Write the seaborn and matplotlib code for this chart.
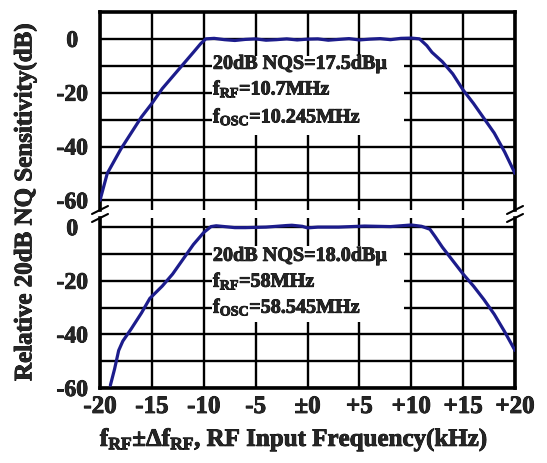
import numpy as np
import pandas as pd
import seaborn as sns
import matplotlib
matplotlib.use("Agg")
import matplotlib.pyplot as plt
import matplotlib.patheffects as pe
from matplotlib.patches import Rectangle
from matplotlib.lines import Line2D

# ---------------- data ----------------
x_top = [-20.0, -19.3, -18.0, -17.0, -16.0, -15.0, -14.0, -13.0, -12.0, -11.0, -10.3, -9.8,
         -9.0, -8.0, -7.0, -6.0, -5.0, -4.0, -3.0, -2.0, -1.0, 0.0, 1.0, 2.0, 3.0, 4.0,
         5.0, 6.0, 7.0, 8.0, 9.0, 10.0, 10.8, 11.5, 12.0, 13.0, 14.0, 15.0, 16.0, 17.0,
         18.0, 19.0, 20.0]
y_top = [-60.0, -50.0, -41.0, -35.0, -29.0, -24.0, -18.5, -14.0, -9.5, -5.0, -1.8, 0.0,
         0.2, -0.3, -0.6, -0.2, 0.0, -0.5, -0.3, 0.0, -0.4, -0.1, 0.0, -0.5, -0.2, 0.1,
         -0.4, -0.1, 0.1, -0.3, 0.2, 0.3, 0.0, -2.5, -5.0, -8.5, -13.0, -19.0, -24.0, -29.5,
         -35.0, -42.0, -50.0]

x_bot = [-19.0, -18.6, -18.2, -17.8, -17.0, -16.0, -15.2, -14.0, -13.0, -12.0, -11.0, -10.0,
         -9.3, -8.8, -8.0, -7.0, -6.0, -4.0, -2.0, -1.5, -0.5, 0.0, 1.0, 3.0, 5.5, 8.0,
         10.0, 11.0, 11.8, 12.3, 13.0, 14.0, 15.0, 16.0, 17.0, 18.0, 19.0, 20.0]
y_bot = [-59.0, -53.0, -46.0, -42.5, -38.0, -32.0, -26.6, -22.0, -17.5, -12.0, -6.5, -2.0,
         0.2, 0.5, 0.2, -0.2, -0.2, 0.0, 0.6, 0.7, 0.3, -0.3, 0.0, 0.0, 0.4, 0.2,
         0.8, 0.3, -0.8, -3.5, -7.5, -12.5, -17.5, -22.0, -27.0, -32.5, -39.0, -46.0]

x_ticks = [-20, -15, -10, -5, 0, 5, 10, 15, 20]
x_ticklabels = ["-20", "-15", "-10", "-5", "±0", "+5", "+10", "+15", "+20"]
y_ticks = [0, -10, -20, -30, -40, -50, -60]
y_ticklabels = ["0", "", "-20", "", "-40", "", "-60"]

top_lines = ["20dB NQS=17.5dBμ", r"f$_\mathrm{RF}$=10.7MHz", r"f$_\mathrm{OSC}$=10.245MHz"]
bot_lines = ["20dB NQS=18.0dBμ", r"f$_\mathrm{RF}$=58MHz", r"f$_\mathrm{OSC}$=58.545MHz"]

xlabel = r"f$_\mathrm{RF}$±Δf$_\mathrm{RF}$, RF Input Frequency(kHz)"
ylabel = "Relative 20dB NQ Sensitivity(dB)"

# ---------------- style ----------------
sns.set_style("white")
plt.rcParams["font.family"] = ["Liberation Serif", "DejaVu Serif"]
plt.rcParams["font.weight"] = "bold"
plt.rcParams["mathtext.fontset"] = "custom"
plt.rcParams["mathtext.rm"] = "Liberation Serif:bold"
plt.rcParams["mathtext.it"] = "Liberation Serif:bold"
plt.rcParams["mathtext.bf"] = "Liberation Serif:bold"

heavy = [pe.withStroke(linewidth=0.6, foreground="black")]

W, H = 547, 463
fig = plt.figure(figsize=(W / 100, H / 100), dpi=100)

def px_rect(l, t, r, b):
    return [l / W, 1 - b / H, (r - l) / W, (b - t) / H]

ax_top = fig.add_axes(px_rect(100, 11.7, 515, 210))
ax_bot = fig.add_axes(px_rect(100, 218, 515, 388))

navy = "#1c1c8c"
df_top = pd.DataFrame({"f": x_top, "s": y_top})
df_bot = pd.DataFrame({"f": x_bot, "s": y_bot})
sns.lineplot(data=df_top, x="f", y="s", ax=ax_top, color=navy, lw=2.3, sort=False, zorder=4)
sns.lineplot(data=df_bot, x="f", y="s", ax=ax_bot, color=navy, lw=2.3, sort=False, zorder=4)

ax_top.set_ylim(-63.6, 10.1)
ax_bot.set_ylim(-60, 3.4)

for ax in (ax_top, ax_bot):
    ax.set_xlim(-20, 20)
    ax.set_xticks(x_ticks)
    ax.set_yticks(y_ticks)
    ax.set_yticklabels(y_ticklabels, fontsize=17, fontweight="bold", ha="center")
    ax.grid(True, color="black", lw=1.7)
    ax.set_axisbelow(True)
    ax.tick_params(axis="both", length=0)
    ax.tick_params(axis="y", pad=20)
    ax.set_xlabel("")
    ax.set_ylabel("")
    for lab in ax.get_yticklabels():
        lab.set_path_effects(heavy)
    for sp in ax.spines.values():
        sp.set_color("black")
        sp.set_linewidth(2.6)

ax_top.spines["bottom"].set_visible(False)
ax_top.set_xticklabels([])
ax_bot.spines["top"].set_visible(False)
ax_bot.set_xticklabels(x_ticklabels, fontsize=18, fontweight="bold")
for lab in ax_bot.get_xticklabels():
    lab.set_path_effects(heavy)
ax_bot.tick_params(axis="x", pad=5)

# text boxes
def info_box(ax, y0, y1, baselines, lines):
    ax.add_patch(Rectangle((0.27, y1), 0.7325 - 0.27, y0 - y1, transform=ax.transAxes,
                           facecolor="white", edgecolor="none", zorder=3))
    for yb, s in zip(baselines, lines):
        ax.text(0.272, yb, s, transform=ax.transAxes, fontsize=14.5, fontweight="bold",
                ha="left", va="baseline", zorder=5, path_effects=heavy)

info_box(ax_top, 0.775, 0.376, [0.712, 0.582, 0.441], top_lines)
info_box(ax_bot, 0.836, 0.391, [0.748, 0.595, 0.442], bot_lines)

# break marks
for xc in (100, 515):
    for yc in (210, 218):
        fig.add_artist(Line2D([(xc - 8) / W, (xc + 8) / W],
                              [1 - (yc + 4) / H, 1 - (yc - 4) / H],
                              transform=fig.transFigure, color="black", lw=1.5))

fig.text(294 / W, 1 - 440 / H, xlabel, fontsize=18, fontweight="bold", ha="center", va="center",
         path_effects=heavy)
fig.text(25 / W, 1 - 202 / H, ylabel, fontsize=18, fontweight="bold", ha="center", va="center",
         rotation=90, path_effects=heavy)

fig.savefig("out.png", dpi=100)
